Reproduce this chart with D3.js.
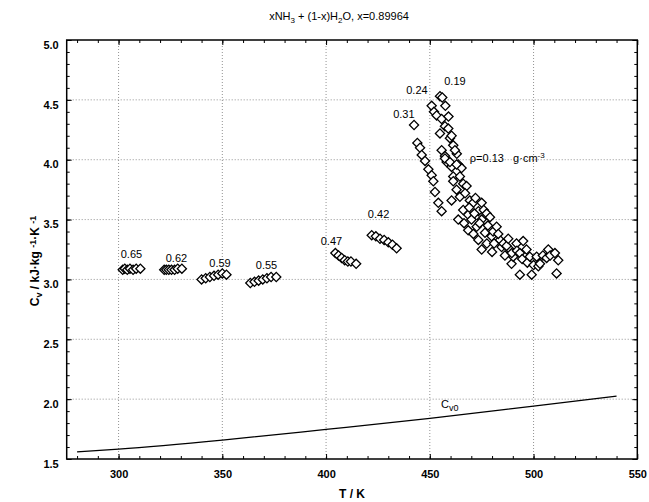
<!DOCTYPE html>
<html>
<head>
<meta charset="utf-8">
<script src="https://cdn.jsdelivr.net/npm/d3@7"></script>
<style>
  body { margin: 0; background: #fff; }
  text { font-family: "Liberation Sans", Arial, sans-serif; }
</style>
</head>
<body>
<div id="chart"></div>
<script>
// isochores: [T (K), Cv (kJ/kg/K)]
const rho065 = [[302, 3.08], [303, 3.09], [304.2, 3.08], [305.5, 3.09], [307, 3.08], [308.5, 3.09], [310.5, 3.09]];
const rho062 = [[322, 3.08], [323, 3.08], [324.2, 3.08], [325.5, 3.08], [327, 3.08], [328.5, 3.09], [330.5, 3.09]];
const rho059 = [[340, 3.00], [342, 3.01], [344, 3.02], [346, 3.03], [348, 3.04], [350, 3.05], [352, 3.04]];
const rho055 = [[363.5, 2.97], [365.5, 2.98], [367.5, 2.99], [369.5, 3.00], [371.5, 3.01], [373.5, 3.02], [376, 3.02]];
const rho047 = [[404.5, 3.22], [406, 3.20], [407.5, 3.18], [409, 3.16], [410.5, 3.15], [412, 3.15], [414.5, 3.13]];
const rho042 = [[422, 3.37], [424, 3.36], [426, 3.34], [428, 3.33], [430, 3.31], [432, 3.29], [434, 3.26]];
const rho031 = [[442.4, 4.29], [444.0, 4.14], [445.3, 4.10], [446.1, 4.04], [447.7, 3.99], [449.3, 3.92],
  [450.9, 3.87], [451.7, 3.82], [452.5, 3.73], [454.1, 3.64], [455.7, 3.57]];
const rho024 = [[450.9, 4.45], [452.0, 4.40], [453.3, 4.37], [455.7, 4.34], [454.9, 4.22], [457.3, 4.28],
  [459.7, 4.18], [461.3, 4.12], [455.7, 4.08], [457.3, 4.03], [458.1, 3.98], [460.5, 3.94], [461.3, 3.86],
  [461.3, 3.82], [462.9, 3.75], [460.5, 3.66], [464.5, 3.69], [463.7, 3.50], [466.1, 3.58], [468.5, 3.41],
  [468.5, 3.54], [470.1, 3.50], [466.5, 3.47], [471.0, 3.38]];
const rho019 = [[454.9, 4.53], [456.0, 4.52], [457.5, 4.45], [459.0, 4.36], [458.9, 4.26], [460.5, 4.20],
  [463.0, 4.05], [462.1, 4.08], [463.7, 3.96], [465.3, 3.93], [464.5, 3.86], [457.3, 4.01], [459.7, 3.98],
  [462.9, 3.96], [466.1, 3.80], [467.7, 3.78], [467.0, 3.72], [469.3, 3.66], [470.9, 3.64], [469.0, 3.60],
  [472.6, 3.44], [473.4, 3.57], [473.4, 3.33], [475.0, 3.50], [475.0, 3.25], [476.6, 3.39], [477.5, 3.30],
  [479.8, 3.36], [480.0, 3.23], [483.8, 3.33], [484.6, 3.27], [486.2, 3.20], [488.6, 3.25], [489.4, 3.13],
  [490.2, 3.19], [493.4, 3.04], [499.1, 3.04]];
const rho013 = [[472.0, 3.68], [471.5, 3.55], [475.0, 3.64], [474.0, 3.47], [476.0, 3.58], [477.4, 3.55],
  [478.0, 3.45], [479.0, 3.52], [480.5, 3.40], [481.0, 3.30], [482.2, 3.44], [483.0, 3.38], [485.5, 3.30],
  [487.0, 3.28], [487.8, 3.34], [489.5, 3.22], [491.8, 3.30], [492.0, 3.24], [495.0, 3.32], [493.4, 3.22],
  [494.5, 3.17], [496.6, 3.25], [497.0, 3.14], [498.2, 3.19], [500.0, 3.12], [501.5, 3.19], [502.3, 3.11],
  [503.1, 3.13], [504.5, 3.20], [506.3, 3.18], [507.1, 3.25], [508.0, 3.20], [510.3, 3.22], [511.9, 3.16],
  [511.1, 3.05]];

const series = [rho065, rho062, rho059, rho055, rho047, rho042, rho031, rho024, rho019, rho013];

// ideal-gas heat capacity
const cv0T = [280, 300, 350, 400, 450, 500, 540];
const cv0Values = [1.56, 1.583, 1.658, 1.747, 1.839, 1.942, 2.025];

// density labels, anchored in data coordinates
const densityLabels = ["0.65", "0.62", "0.59", "0.55", "0.47", "0.42", "0.31", "0.24", "0.19"];
const labelT = [306.2, 327.9, 348.9, 371.3, 402.6, 425.3, 437.5, 443.8, 462.1];
const labelCv = [3.18, 3.145, 3.10, 3.087, 3.29, 3.51, 4.35, 4.55, 4.62];

const xTicks = [300, 350, 400, 450, 500, 550];
const yTicks = [1.5, 2.0, 2.5, 3.0, 3.5, 4.0, 4.5, 5.0];

const width = 649;
const height = 502;
const margin = { top: 40, right: 11.7, bottom: 43, left: 66.7 };

const svg = d3.select("#chart")
    .append("svg")
    .attr("width", width)
    .attr("height", height);

const x = d3.scaleLinear()
    .domain([275, 550])
    .range([margin.left, width - margin.right]);

const y = d3.scaleLinear()
    .domain([1.5, 5.0])
    .range([height - margin.bottom, margin.top]);

// title
const title = svg.append("text")
    .attr("x", 339)
    .attr("y", 20)
    .attr("text-anchor", "middle")
    .attr("font-size", "11px");
title.append("tspan").text("xNH");
title.append("tspan").attr("font-size", "8px").attr("dy", 3).text("3");
title.append("tspan").attr("dy", -3).text(" + (1-x)H");
title.append("tspan").attr("font-size", "8px").attr("dy", 3).text("2");
title.append("tspan").attr("dy", -3).text("O, x=0.89964");

// grid
const grid = svg.append("g")
    .attr("stroke", "#777")
    .attr("stroke-width", 0.8)
    .attr("stroke-dasharray", "1,2");

grid.selectAll("line.vx")
    .data(xTicks.slice(0, -1))
    .enter()
    .append("line")
    .attr("x1", d => x(d))
    .attr("x2", d => x(d))
    .attr("y1", y(5.0))
    .attr("y2", y(1.5));

grid.selectAll("line.hy")
    .data(yTicks.slice(1, -1))
    .enter()
    .append("line")
    .attr("x1", x(275))
    .attr("x2", x(550))
    .attr("y1", d => y(d))
    .attr("y2", d => y(d));

// axes with inward ticks on all four sides
const plotW = width - margin.left - margin.right;
const plotH = height - margin.top - margin.bottom;
const xMinor = d3.range(280, 550, 10);
const yMinor = d3.range(1.6, 5.0, 0.1);

function styleAxis(g) {
    g.select(".domain").remove();
    g.selectAll("line").attr("stroke", "#000").attr("stroke-width", 1);
}

const bottom = svg.append("g")
    .attr("transform", `translate(0,${height - margin.bottom})`)
    .call(d3.axisBottom(x).tickValues(xTicks).tickSizeInner(-5).tickSizeOuter(0).tickPadding(11).tickFormat(d3.format("d")))
    .call(styleAxis);
bottom.selectAll("text")
    .attr("font-size", "11px")
    .attr("font-weight", "bold")
    .attr("font-family", "Liberation Sans, Arial, sans-serif");

svg.append("g")
    .attr("transform", `translate(0,${height - margin.bottom})`)
    .call(d3.axisBottom(x).tickValues(xMinor).tickSize(-3).tickFormat(""))
    .call(styleAxis);

svg.append("g")
    .attr("transform", `translate(0,${margin.top})`)
    .call(d3.axisTop(x).tickValues(xTicks).tickSize(-5).tickFormat(""))
    .call(styleAxis);
svg.append("g")
    .attr("transform", `translate(0,${margin.top})`)
    .call(d3.axisTop(x).tickValues(xMinor).tickSize(-3).tickFormat(""))
    .call(styleAxis);

const left = svg.append("g")
    .attr("transform", `translate(${margin.left},0)`)
    .call(d3.axisLeft(y).tickValues(yTicks).tickSizeInner(-5).tickSizeOuter(0).tickPadding(8).tickFormat(d3.format(".1f")))
    .call(styleAxis);
left.selectAll("text")
    .attr("font-size", "11px")
    .attr("font-weight", "bold")
    .attr("dy", "0.75em")
    .attr("font-family", "Liberation Sans, Arial, sans-serif");

svg.append("g")
    .attr("transform", `translate(${margin.left},0)`)
    .call(d3.axisLeft(y).tickValues(yMinor).tickSize(-3).tickFormat(""))
    .call(styleAxis);

svg.append("g")
    .attr("transform", `translate(${width - margin.right},0)`)
    .call(d3.axisRight(y).tickValues(yTicks).tickSize(-5).tickFormat(""))
    .call(styleAxis);
svg.append("g")
    .attr("transform", `translate(${width - margin.right},0)`)
    .call(d3.axisRight(y).tickValues(yMinor).tickSize(-3).tickFormat(""))
    .call(styleAxis);

// frame
svg.append("rect")
    .attr("x", margin.left)
    .attr("y", margin.top)
    .attr("width", plotW)
    .attr("height", plotH)
    .attr("fill", "none")
    .attr("stroke", "#000")
    .attr("stroke-width", 1.5);

// Cv0 curve
const cv0 = cv0T.map((t, i) => [t, cv0Values[i]]);
svg.append("path")
    .datum(cv0)
    .attr("fill", "none")
    .attr("stroke", "#000")
    .attr("stroke-width", 1.2)
    .attr("d", d3.line().x(d => x(d[0])).y(d => y(d[1])).curve(d3.curveMonotoneX));

const cvLabel = svg.append("text")
    .attr("x", x(455.4))
    .attr("y", y(1.925))
    .attr("font-size", "11px");
cvLabel.append("tspan").text("C");
cvLabel.append("tspan").attr("font-size", "9px").attr("dy", 3).text("v0");

// diamonds
const diamond = d3.symbol().type(d3.symbolSquare).size(42);
series.forEach(s => {
    svg.append("g")
        .selectAll("path")
        .data(s)
        .enter()
        .append("path")
        .attr("d", diamond)
        .attr("transform", d => `translate(${x(d[0])},${y(d[1])}) rotate(45)`)
        .attr("fill", "#fff")
        .attr("stroke", "#000")
        .attr("stroke-width", 1.3);
});

// density labels
svg.selectAll("text.dens")
    .data(densityLabels)
    .enter()
    .append("text")
    .attr("class", "dens")
    .attr("x", (d, i) => x(labelT[i]))
    .attr("y", (d, i) => y(labelCv[i]))
    .attr("text-anchor", "middle")
    .attr("font-size", "11px")
    .text(d => d);

const rhoLabel = svg.append("text")
    .attr("x", x(469.3))
    .attr("y", y(3.98))
    .attr("font-size", "11px")
    .style("white-space", "pre");
rhoLabel.append("tspan").text("\u03c1=0.13   g\u00b7cm");
rhoLabel.append("tspan").attr("font-size", "8px").attr("dy", -4).text("-3");

// axis titles
svg.append("text")
    .attr("x", 352)
    .attr("y", 498)
    .attr("text-anchor", "middle")
    .attr("font-size", "12px")
    .attr("font-weight", "bold")
    .text("T / K");

const yTitle = svg.append("text")
    .attr("transform", "translate(39,261) rotate(-90)")
    .attr("text-anchor", "middle")
    .attr("font-size", "12px")
    .attr("font-weight", "bold");
yTitle.append("tspan").text("C");
yTitle.append("tspan").attr("font-size", "9px").attr("dy", 3).text("v");
yTitle.append("tspan").attr("dy", -3).text(" / kJ\u00b7kg ");
yTitle.append("tspan").attr("font-size", "9px").attr("dy", -3).text("-1");
yTitle.append("tspan").attr("dy", 3).text("\u00b7K ");
yTitle.append("tspan").attr("font-size", "9px").attr("dy", -3).text("-1");
</script>
</body>
</html>
